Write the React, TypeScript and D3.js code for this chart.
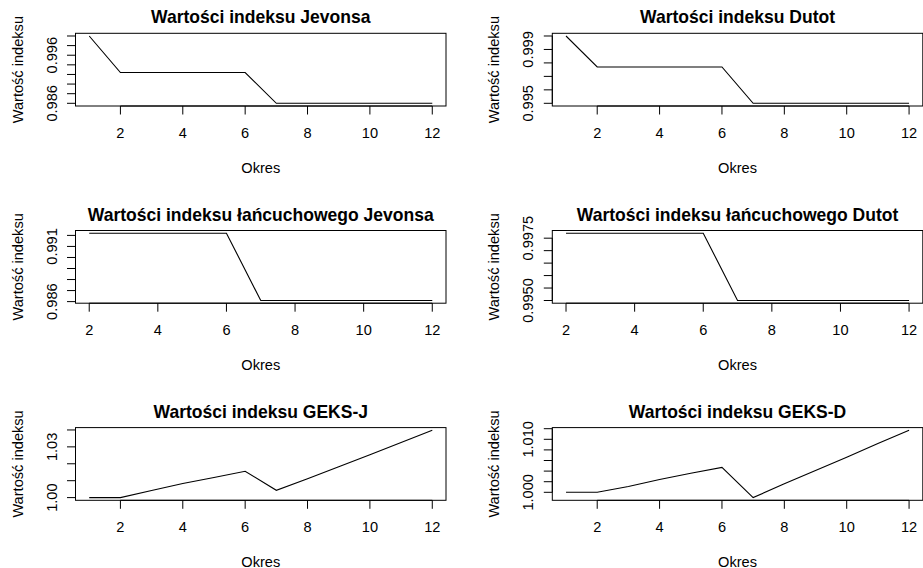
import React from "react";
import * as d3 from "d3";

const periods = [1, 2, 3, 4, 5, 6, 7, 8, 9, 10, 11, 12];
const chainPeriods = [2, 3, 4, 5, 6, 7, 8, 9, 10, 11, 12];

const jevons = [1.0, 0.9924, 0.9924, 0.9924, 0.9924, 0.9924, 0.986, 0.986, 0.986, 0.986, 0.986, 0.986];
const dutot = [1.0, 0.9977, 0.9977, 0.9977, 0.9977, 0.9977, 0.995, 0.995, 0.995, 0.995, 0.995, 0.995];
const chainJevons = [0.9922, 0.9922, 0.9922, 0.9922, 0.9922, 0.9861, 0.9861, 0.9861, 0.9861, 0.9861, 0.9861];
const chainDutot = [0.9977, 0.9977, 0.9977, 0.9977, 0.9977, 0.995, 0.995, 0.995, 0.995, 0.995, 0.995];
const geksJ = [1.0, 1.0, 1.0042, 1.0083, 1.0119, 1.0156, 1.0043, 1.0112, 1.0183, 1.0254, 1.0326, 1.0398];
const geksD = [1.0, 1.0, 1.0011, 1.0024, 1.0036, 1.0047, 0.999, 1.0016, 1.0041, 1.0066, 1.0092, 1.0117];

const xTicks = [2, 4, 6, 8, 10, 12];

const jevonsTicks = [0.986, 0.988, 0.99, 0.992, 0.994, 0.996, 0.998, 1.0];
const jevonsLabels = ["0.986", "0.996"];
const dutotTicks = [0.995, 0.996, 0.997, 0.998, 0.999, 1.0];
const dutotLabels = ["0.995", "0.999"];
const chainJTicks = [0.986, 0.987, 0.988, 0.989, 0.99, 0.991, 0.992];
const chainJLabels = ["0.986", "0.991"];
const chainDTicks = [0.995, 0.9955, 0.996, 0.9965, 0.997, 0.9975];
const chainDLabels = ["0.9950", "0.9975"];
const geksJTicks = [1.0, 1.01, 1.02, 1.03, 1.04];
const geksJLabels = ["1.00", "1.03"];
const geksDTicks = [1.0, 1.002, 1.004, 1.006, 1.008, 1.01, 1.012];
const geksDLabels = ["1.000", "1.010"];

const titles = [
  "Wartości indeksu Jevonsa",
  "Wartości indeksu Dutot",
  "Wartości indeksu łańcuchowego Jevonsa",
  "Wartości indeksu łańcuchowego Dutot",
  "Wartości indeksu GEKS-J",
  "Wartości indeksu GEKS-D",
];
const xLabel = "Okres";
const yLabel = "Wartość indeksu";

const FONT = "'Liberation Sans', Arial, sans-serif";
const FS = 14.6;

type PanelSpec = {
  title: string;
  xs: number[];
  ys: number[];
  yTicks: number[];
  yLabels: string[];
};

const panels: PanelSpec[] = [
  { title: titles[0], xs: periods, ys: jevons, yTicks: jevonsTicks, yLabels: jevonsLabels },
  { title: titles[1], xs: periods, ys: dutot, yTicks: dutotTicks, yLabels: dutotLabels },
  { title: titles[2], xs: chainPeriods, ys: chainJevons, yTicks: chainJTicks, yLabels: chainJLabels },
  { title: titles[3], xs: chainPeriods, ys: chainDutot, yTicks: chainDTicks, yLabels: chainDLabels },
  { title: titles[4], xs: periods, ys: geksJ, yTicks: geksJTicks, yLabels: geksJLabels },
  { title: titles[5], xs: periods, ys: geksD, yTicks: geksDTicks, yLabels: geksDLabels },
];

function pad(ext: [number, number]): [number, number] {
  const r = ext[1] - ext[0];
  return [ext[0] - 0.04 * r, ext[1] + 0.04 * r];
}

function Panel({ spec, left, top }: { spec: PanelSpec; left: number; top: number }) {
  const w = 370.5;
  const h = 72.7;
  const right = left + w;
  const bottom = top + h;
  const x = d3.scaleLinear().domain(pad(d3.extent(spec.xs) as [number, number])).range([left, right]);
  const y = d3.scaleLinear().domain(pad(d3.extent(spec.ys) as [number, number])).range([bottom, top]);
  const line = d3
    .line<number>()
    .x((_, i) => x(spec.xs[i]))
    .y((d) => y(d));
  const tl = 8.5;
  const xt = xTicks.filter((t) => t >= x.domain()[0] && t <= x.domain()[1]);
  const cx = (left + right) / 2;
  const cy = (top + bottom) / 2;
  return (
    <g>
      <path d={line(spec.ys) || ""} fill="none" stroke="#000" strokeWidth={1.1} />
      <rect x={left} y={top} width={w} height={h} fill="none" stroke="#000" strokeWidth={1} />
      {/* x axis */}
      <line x1={x(xt[0])} x2={x(xt[xt.length - 1])} y1={bottom} y2={bottom} stroke="#000" />
      {xt.map((t) => (
        <g key={"x" + t}>
          <line x1={x(t)} x2={x(t)} y1={bottom} y2={bottom + tl} stroke="#000" />
          <text x={x(t)} y={bottom + 27} textAnchor="middle" dominantBaseline="central" fontSize={FS} fontFamily={FONT}>
            {t}
          </text>
        </g>
      ))}
      {/* y axis */}
      <line x1={left} x2={left} y1={y(spec.yTicks[0])} y2={y(spec.yTicks[spec.yTicks.length - 1])} stroke="#000" />
      {spec.yTicks.map((t) => (
        <line key={"y" + t} x1={left - tl} x2={left} y1={y(t)} y2={y(t)} stroke="#000" />
      ))}
      {spec.yLabels.map((lab) => (
        <text
          key={"yl" + lab}
          transform={`translate(${left - 24},${y(+lab)}) rotate(-90)`}
          textAnchor="middle"
          dominantBaseline="central"
          fontSize={FS}
          fontFamily={FONT}
        >
          {lab}
        </text>
      ))}
      <text x={cx} y={top - 16} textAnchor="middle" dominantBaseline="central" fontSize={FS * 1.2} fontWeight="bold" fontFamily={FONT}>
        {spec.title}
      </text>
      <text x={cx} y={bottom + 62} textAnchor="middle" dominantBaseline="central" fontSize={FS} fontFamily={FONT}>
        {xLabel}
      </text>
      <text
        transform={`translate(${left - 58},${cy}) rotate(-90)`}
        textAnchor="middle"
        dominantBaseline="central"
        fontSize={FS}
        fontFamily={FONT}
      >
        {yLabel}
      </text>
    </g>
  );
}

export default function App() {
  const lefts = [75.5, 552.3];
  const tops = [33.3, 230.5, 427.6];
  return (
    <svg
      width={923}
      height={568}
      style={{ position: "fixed", left: 0, top: 0, background: "#fff" }}
      viewBox="0 0 923 568"
    >
      <rect x={0} y={0} width={923} height={568} fill="#fff" />
      {panels.map((p, i) => (
        <Panel key={i} spec={p} left={lefts[i % 2]} top={tops[Math.floor(i / 2)]} />
      ))}
    </svg>
  );
}
